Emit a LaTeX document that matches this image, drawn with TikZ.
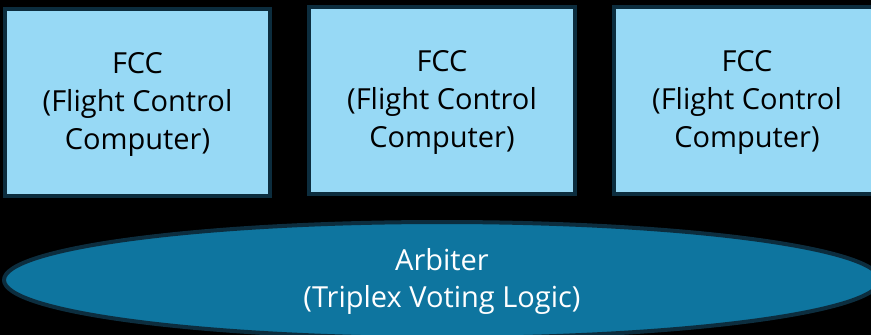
\documentclass[tikz,border=0pt]{standalone}
\usepackage{fontspec}
\setmainfont{Open Sans}
\usetikzlibrary{shapes.geometric}
\definecolor{boxfill}{HTML}{97D9F5}
\definecolor{edge}{HTML}{0C2D3E}
\definecolor{ellfill}{HTML}{0E759F}
\tikzset{
  fccbox/.style={draw=edge, line width=4pt, fill=boxfill},
  fcctext/.style={align=center, font=\fontsize{29}{38}\selectfont, text=black, inner sep=0pt},
  arbtext/.style={align=center, font=\fontsize{29}{37}\selectfont, text=white, inner sep=0pt}
}
\begin{document}
\begin{tikzpicture}[x=1pt,y=-1pt]
\fill[black] (0,0) rectangle (871,335);
\useasboundingbox (0,0) rectangle (871,335);
\begin{scope}
\clip (0,0) rectangle (871,335);
\draw[fccbox] (5,9) rectangle (270,196);
\draw[fccbox] (309,7) rectangle (575,194);
\draw[fccbox] (614,7) rectangle (882,194);
\draw[draw=edge, line width=4pt, fill=ellfill] (442,280) ellipse [x radius=438, y radius=58];
\end{scope}
\node[fcctext] (fcc1) at (137.5,104) {FCC\\(Flight Control\\Computer)};
\node[fcctext] (fcc2) at (442,102) {FCC\\(Flight Control\\Computer)};
\node[fcctext] (fcc3) at (747,102) {FCC\\(Flight Control\\Computer)};
\node[arbtext] (arb) at (442,281) {Arbiter\\(Triplex Voting Logic)};
\end{tikzpicture}
\end{document}
